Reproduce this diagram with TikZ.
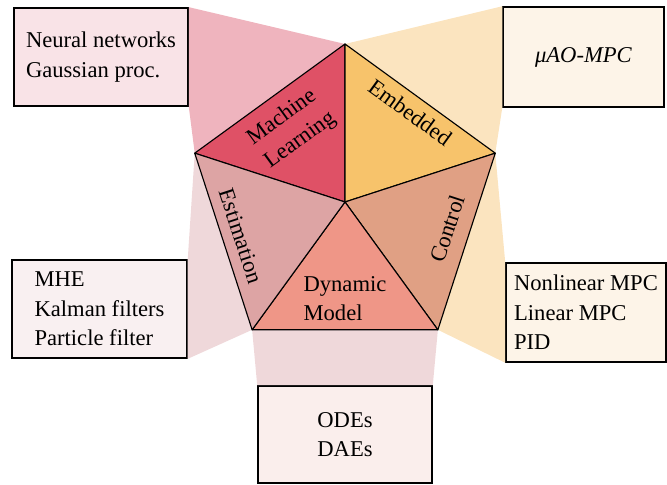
\documentclass[tikz,border=0pt]{standalone}
\usepackage{fontspec}
\setmainfont{Liberation Serif}
\usepackage{xcolor}
\usetikzlibrary{calc}

% sector colours
\definecolor{mlred}{HTML}{DF5166}
\definecolor{embyellow}{HTML}{F7C36B}
\definecolor{ctrltan}{HTML}{E0A084}
\definecolor{dynsalmon}{HTML}{EF9687}
\definecolor{estrose}{HTML}{DDA4A4}
% funnel colours
\definecolor{mlfunnel}{HTML}{EFB4BE}
\definecolor{embfunnel}{HTML}{FBE4BF}
\definecolor{estfunnel}{HTML}{EFD8DA}
% box fills
\definecolor{mlfill}{HTML}{F9E3E7}
\definecolor{embfill}{HTML}{FDF4E8}
\definecolor{estfill}{HTML}{F9F0F1}
\definecolor{dynfill}{HTML}{FAEEEC}

\begin{document}
\begin{tikzpicture}[
    x=0.4425pt, y=0.4425pt,
    font=\fontsize{10}{13}\selectfont,
    infobox/.style={draw, line width=0.7pt, align=left, inner sep=0pt},
    sector/.style={draw=black, line width=0.5pt, line join=round},
    sectlabel/.style={align=left, inner sep=0pt},
]
    \useasboundingbox (0,0) rectangle (667,485);

    % Pentagon corners
    \coordinate (c) at (345,283);
    \foreach \a/\n in {90/top, 162/ul, 234/ll, 306/lr, 18/ur}
        \coordinate (\n) at ($(c)+(\a:158)$);

    % Boxes
    \node[infobox, fill=mlfill, minimum width=77pt, minimum height=43.4pt]
        (mlbox) at (101,428) {Neural networks\\Gaussian proc.};
    \node[infobox, fill=embfill, minimum width=71.2pt, minimum height=44.2pt]
        (embbox) at (583.5,428) {\textit{μAO-MPC}};
    \node[infobox, fill=embfill, minimum width=70.8pt, minimum height=43.8pt]
        (ctrlbox) at (586,172.5) {Nonlinear MPC\\Linear MPC\\PID};
    \node[infobox, fill=estfill, minimum width=77.4pt, minimum height=43.4pt]
        (estbox) at (99.5,176) {MHE\\Kalman filters\\Particle filter};
    \node[infobox, fill=dynfill, minimum width=77pt, minimum height=42.9pt]
        (dynbox) at (345,50.5) {\hfil ODEs\hfil\\\hfil DAEs\hfil};

    % Funnels from the sectors to their boxes
    \fill[mlfunnel] (mlbox.north east) -- (top) -- (ul) -- (mlbox.south east) -- cycle;
    \fill[embfunnel] (embbox.north west) -- (top) -- (ur) -- (embbox.south west) -- cycle;
    \fill[embfunnel] (ctrlbox.north west) -- (ur) -- (lr) -- (ctrlbox.south west) -- cycle;
    \fill[estfunnel] (estbox.north east) -- (ul) -- (ll) -- (estbox.south east) -- cycle;
    \fill[estfunnel] (dynbox.north west) -- (ll) -- (lr) -- (dynbox.north east) -- cycle;

    % Sectors
    \filldraw[sector, fill=mlred] (c) -- (ul) -- (top) -- cycle;
    \filldraw[sector, fill=embyellow] (c) -- (top) -- (ur) -- cycle;
    \filldraw[sector, fill=ctrltan] (c) -- (ur) -- (lr) -- cycle;
    \filldraw[sector, fill=dynsalmon] (c) -- (lr) -- (ll) -- cycle;
    \filldraw[sector, fill=estrose] (c) -- (ll) -- (ul) -- cycle;

    % Sector labels
    \node[sectlabel, rotate=36] (mllab) at ($(ul)!0.5!(top)!16.4pt!(c)$) {Machine\\Learning};
    \node[sectlabel, rotate=-36] (emblab) at ($(top)!0.5!(ur)!7.5pt!(c)$) {Embedded};
    \node[sectlabel, rotate=72] (ctrllab) at ($(lr)!0.54!(ur)!10pt!(c)$) {Control};
    \node[sectlabel, rotate=-72] (estlab) at ($(ul)!0.5!(ll)!8pt!(c)$) {Estimation};
    \node[sectlabel] (dynlab) at ($(ll)!0.5!(lr)!13.7pt!(c)$) {Dynamic\\Model};
\end{tikzpicture}
\end{document}
